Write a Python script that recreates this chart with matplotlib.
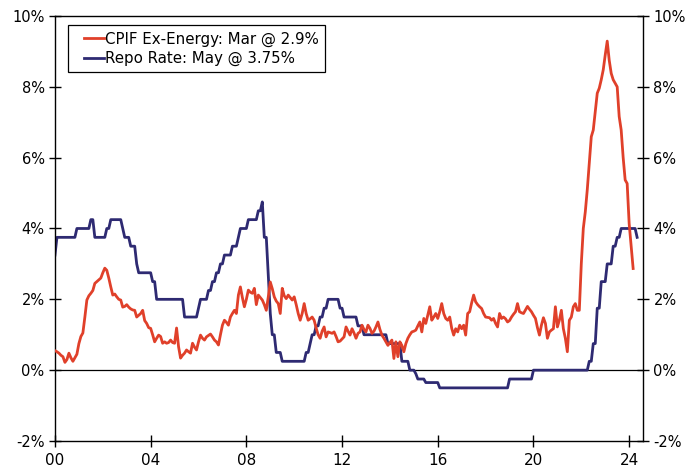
import matplotlib
matplotlib.use("Agg")
import matplotlib.pyplot as plt
from matplotlib.legend_handler import HandlerLine2D
from matplotlib.lines import Line2D
import numpy as np

plt.rcParams['font.family'] = ['DejaVu Sans']

# ---------------- data (monthly, starting Jan 2000) ----------------
start_year = 2000

cpif_ex_energy = [
    # 2000
    0.55, 0.52, 0.48, 0.42, 0.38, 0.22, 0.30, 0.48, 0.35, 0.25, 0.35, 0.45,
    # 2001
    0.75, 0.95, 1.05, 1.50, 1.98, 2.10, 2.17, 2.25, 2.45, 2.50, 2.55, 2.60,
    # 2002
    2.75, 2.88, 2.82, 2.60, 2.35, 2.12, 2.15, 2.07, 2.00, 1.98, 1.78, 1.80,
    # 2003
    1.85, 1.78, 1.73, 1.70, 1.69, 1.50, 1.55, 1.60, 1.69, 1.40, 1.32, 1.20,
    # 2004
    1.18, 1.00, 0.80, 0.90, 0.99, 0.95, 0.76, 0.80, 0.76, 0.78, 0.85, 0.78,
    # 2005
    0.76, 1.19, 0.66, 0.34, 0.42, 0.48, 0.57, 0.52, 0.48, 0.76, 0.65, 0.57,
    # 2006
    0.80, 0.99, 0.90, 0.85, 0.94, 0.98, 1.02, 0.94, 0.85, 0.80, 0.71, 1.00,
    # 2007
    1.27, 1.41, 1.35, 1.27, 1.50, 1.60, 1.69, 1.60, 2.12, 2.35, 2.05, 1.79,
    # 2008
    2.00, 2.26, 2.20, 2.17, 2.31, 1.85, 2.12, 2.05, 1.98, 1.85, 1.69, 2.07,
    # 2009
    2.49, 2.30, 2.07, 1.95, 1.88, 1.60, 2.31, 2.10, 2.02, 2.12, 2.05, 1.98,
    # 2010
    2.07, 1.85, 1.60, 1.41, 1.60, 1.88, 1.60, 1.41, 1.45, 1.50, 1.41, 1.19,
    # 2011
    1.00, 0.90, 1.10, 1.22, 0.94, 1.08, 1.06, 1.04, 1.08, 0.95, 0.80, 0.82,
    # 2012
    0.88, 0.94, 1.22, 1.10, 0.99, 1.17, 1.05, 0.90, 1.04, 1.08, 1.27, 1.15,
    # 2013
    1.08, 1.27, 1.18, 1.04, 1.10, 1.22, 1.36, 1.15, 0.99, 0.90, 0.80, 0.70,
    # 2014
    0.78, 0.85, 0.33, 0.80, 0.38, 0.80, 0.70, 0.52, 0.75, 0.90, 1.00, 1.08,
    # 2015
    1.10, 1.13, 1.25, 1.36, 1.08, 1.46, 1.32, 1.55, 1.79, 1.41, 1.50, 1.60,
    # 2016
    1.46, 1.65, 1.88, 1.60, 1.46, 1.41, 1.50, 1.18, 0.99, 1.17, 1.08, 1.27,
    # 2017
    1.17, 1.27, 0.99, 1.60, 1.65, 1.90, 2.12, 1.93, 1.85, 1.79, 1.74, 1.60,
    # 2018
    1.50, 1.49, 1.48, 1.41, 1.46, 1.32, 1.22, 1.60, 1.46, 1.50, 1.45, 1.36,
    # 2019
    1.40, 1.50, 1.58, 1.65, 1.88, 1.65, 1.62, 1.60, 1.70, 1.80, 1.72, 1.65,
    # 2020
    1.55, 1.46, 1.20, 0.99, 1.27, 1.48, 1.32, 0.90, 1.08, 1.13, 1.17, 1.79,
    # 2021
    1.22, 1.41, 1.69, 1.17, 0.90, 0.52, 1.41, 1.50, 1.79, 1.88, 1.69, 1.69,
    # 2022
    3.01, 4.00, 4.47, 5.10, 5.84, 6.59, 6.78, 7.30, 7.82, 7.96, 8.20, 8.48,
    # 2023
    8.90, 9.29, 8.75, 8.38, 8.20, 8.10, 8.00, 7.16, 6.78, 6.00, 5.37, 5.27,
    # 2024 (to Mar)
    4.14, 3.50, 2.87,
]

repo_rate = [
    # 2000
    3.25, 3.75, 3.75, 3.75, 3.75, 3.75, 3.75, 3.75, 3.75, 3.75, 3.75, 4.00,
    # 2001
    4.00, 4.00, 4.00, 4.00, 4.00, 4.00, 4.25, 4.25, 3.75, 3.75, 3.75, 3.75,
    # 2002
    3.75, 3.75, 4.00, 4.00, 4.25, 4.25, 4.25, 4.25, 4.25, 4.25, 4.00, 3.75,
    # 2003
    3.75, 3.75, 3.50, 3.50, 3.50, 3.00, 2.75, 2.75, 2.75, 2.75, 2.75, 2.75,
    # 2004
    2.75, 2.50, 2.50, 2.00, 2.00, 2.00, 2.00, 2.00, 2.00, 2.00, 2.00, 2.00,
    # 2005
    2.00, 2.00, 2.00, 2.00, 2.00, 1.50, 1.50, 1.50, 1.50, 1.50, 1.50, 1.50,
    # 2006
    1.75, 2.00, 2.00, 2.00, 2.00, 2.25, 2.25, 2.50, 2.50, 2.75, 2.75, 3.00,
    # 2007
    3.00, 3.25, 3.25, 3.25, 3.25, 3.50, 3.50, 3.50, 3.75, 4.00, 4.00, 4.00,
    # 2008
    4.00, 4.25, 4.25, 4.25, 4.25, 4.25, 4.50, 4.50, 4.75, 3.75, 3.75, 2.65,
    # 2009
    1.60, 1.00, 1.00, 0.50, 0.50, 0.50, 0.25, 0.25, 0.25, 0.25, 0.25, 0.25,
    # 2010
    0.25, 0.25, 0.25, 0.25, 0.25, 0.25, 0.50, 0.50, 0.75, 1.00, 1.00, 1.25,
    # 2011
    1.25, 1.50, 1.50, 1.75, 1.75, 2.00, 2.00, 2.00, 2.00, 2.00, 2.00, 1.75,
    # 2012
    1.75, 1.50, 1.50, 1.50, 1.50, 1.50, 1.50, 1.50, 1.25, 1.25, 1.25, 1.00,
    # 2013
    1.00, 1.00, 1.00, 1.00, 1.00, 1.00, 1.00, 1.00, 1.00, 1.00, 1.00, 0.75,
    # 2014
    0.75, 0.75, 0.75, 0.75, 0.75, 0.75, 0.25, 0.25, 0.25, 0.25, 0.00, 0.00,
    # 2015
    0.00, -0.10, -0.25, -0.25, -0.25, -0.25, -0.35, -0.35, -0.35, -0.35, -0.35, -0.35,
    # 2016
    -0.35, -0.50, -0.50, -0.50, -0.50, -0.50, -0.50, -0.50, -0.50, -0.50, -0.50, -0.50,
    # 2017
    -0.50, -0.50, -0.50, -0.50, -0.50, -0.50, -0.50, -0.50, -0.50, -0.50, -0.50, -0.50,
    # 2018
    -0.50, -0.50, -0.50, -0.50, -0.50, -0.50, -0.50, -0.50, -0.50, -0.50, -0.50, -0.50,
    # 2019
    -0.25, -0.25, -0.25, -0.25, -0.25, -0.25, -0.25, -0.25, -0.25, -0.25, -0.25, -0.25,
    # 2020
    0.00, 0.00, 0.00, 0.00, 0.00, 0.00, 0.00, 0.00, 0.00, 0.00, 0.00, 0.00,
    # 2021
    0.00, 0.00, 0.00, 0.00, 0.00, 0.00, 0.00, 0.00, 0.00, 0.00, 0.00, 0.00,
    # 2022
    0.00, 0.00, 0.00, 0.00, 0.25, 0.25, 0.75, 0.75, 1.75, 1.75, 2.50, 2.50,
    # 2023
    2.50, 3.00, 3.00, 3.00, 3.50, 3.50, 3.75, 3.75, 4.00, 4.00, 4.00, 4.00,
    # 2024 (to May)
    4.00, 4.00, 4.00, 4.00, 3.75,
]

series_labels = ["CPIF Ex-Energy: Mar @ 2.9%", "Repo Rate: May @ 3.75%"]
series_colors = ["#E0402A", "#2E2A72"]

x_tick_years = [2000, 2004, 2008, 2012, 2016, 2020, 2024]
x_tick_labels = ["00", "04", "08", "12", "16", "20", "24"]
y_ticks = [-2, 0, 2, 4, 6, 8, 10]
y_tick_labels = ["-2%", "0%", "2%", "4%", "6%", "8%", "10%"]


class ShiftedLineHandler(HandlerLine2D):
    """Legend handle drawn only on the right part of the handle box."""
    def create_artists(self, legend, orig_handle, xdescent, ydescent,
                       width, height, fontsize, trans):
        y = height / 2.0 - ydescent
        x0 = -xdescent + width * 0.33
        x1 = -xdescent + width
        line = Line2D([x0, x1], [y, y])
        self.update_prop(line, orig_handle, legend)
        line.set_transform(trans)
        return [line]


# ---------------- plot ----------------
t_cpif = start_year + np.arange(len(cpif_ex_energy)) / 12.0
t_repo = start_year + np.arange(len(repo_rate)) / 12.0

fig = plt.figure(figsize=(6.87, 4.70), dpi=100)
ax = fig.add_axes([0.080, 0.0617, 0.856, 0.9043])

ax.axhline(0, color="black", lw=0.9, zorder=1)
l1, = ax.plot(t_cpif, cpif_ex_energy, color=series_colors[0], lw=2.0,
              label=series_labels[0], zorder=3)
l2, = ax.plot(t_repo, repo_rate, color=series_colors[1], lw=2.0,
              label=series_labels[1], zorder=2)

ax.set_xlim(2000, 2024.58)
ax.set_ylim(-2, 10)
ax.set_xticks(x_tick_years)
ax.set_xticklabels(x_tick_labels)
ax.set_yticks(y_ticks)
ax.set_yticklabels(y_tick_labels)

ax.tick_params(axis="both", direction="inout", length=9, width=1.0,
               colors="black")
ax.tick_params(axis="x", labelsize=11, pad=4)
ax.tick_params(axis="y", right=True, labelright=True, labelsize=10.5, pad=3)

for sp in ax.spines.values():
    sp.set_linewidth(1.0)
    sp.set_color("black")

leg = ax.legend(handles=[l1, l2], loc="upper left",
                bbox_to_anchor=(0.022, 0.978),
                frameon=True, fancybox=False, framealpha=1,
                edgecolor="black", fontsize=10.8, handlelength=2.0,
                handletextpad=0.1, labelspacing=0.3, borderpad=0.4,
                borderaxespad=0,
                handler_map={Line2D: ShiftedLineHandler()})
leg.get_frame().set_linewidth(0.9)

fig.savefig("out.png", dpi=100)
